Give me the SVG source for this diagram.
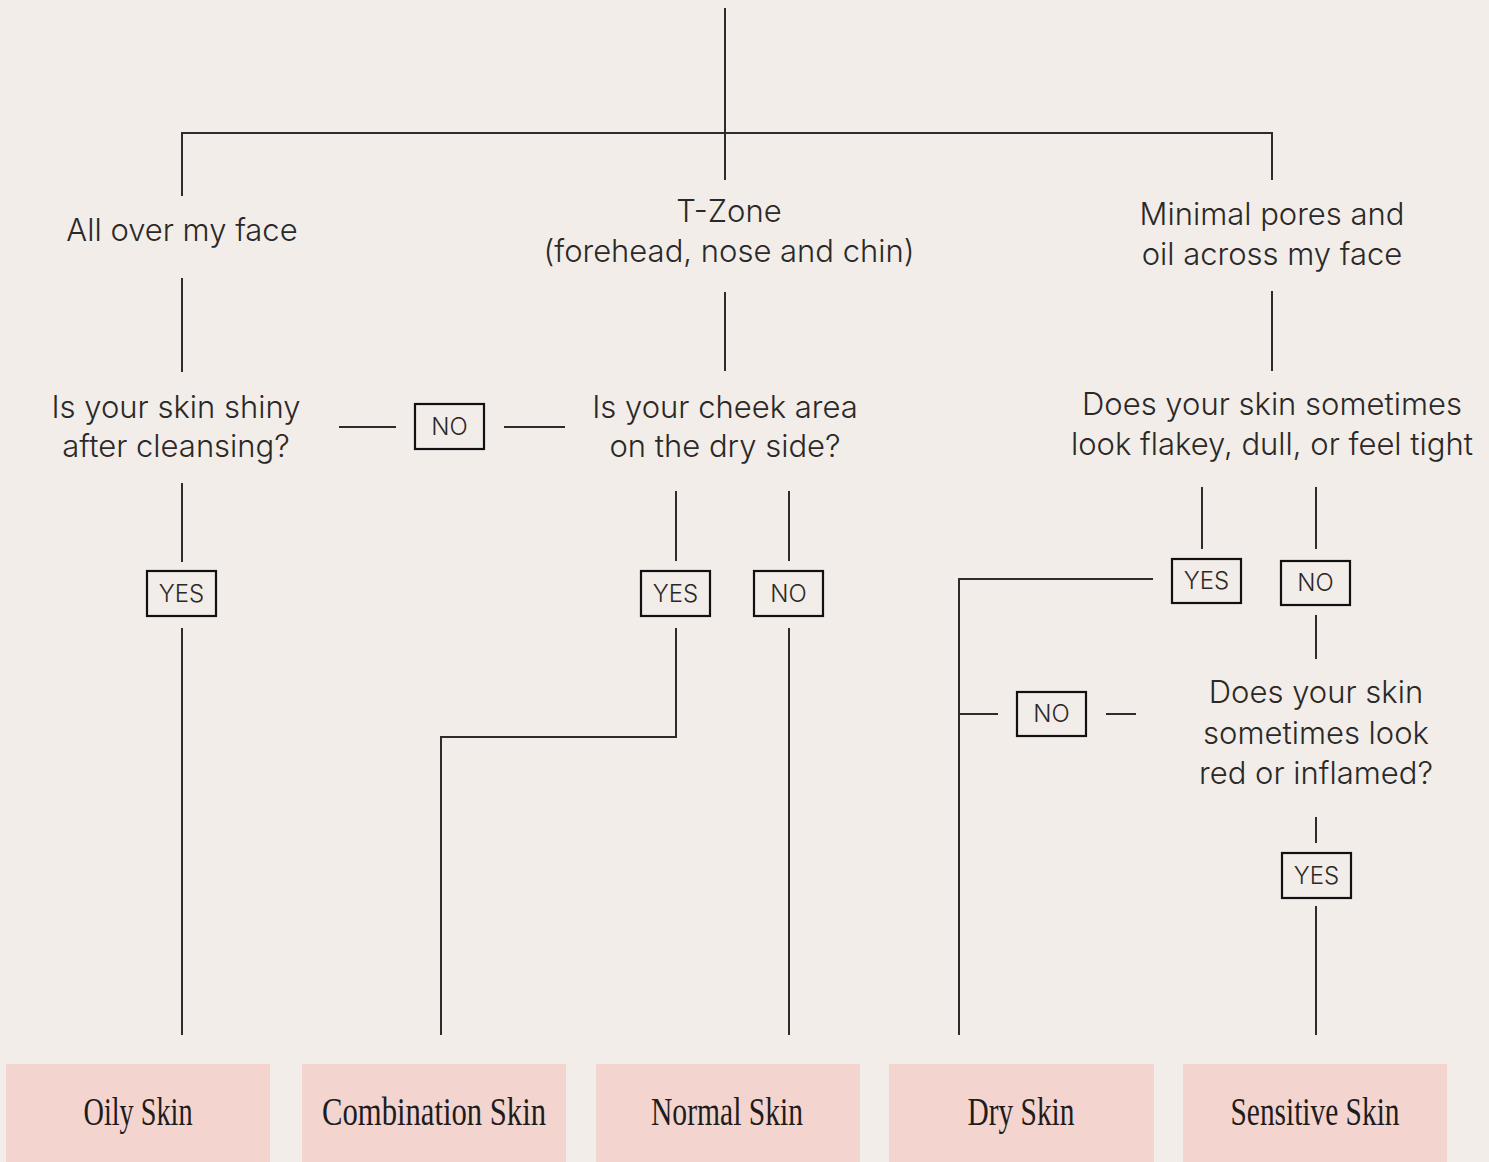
<svg xmlns="http://www.w3.org/2000/svg" width="1489" height="1162" viewBox="0 0 1489 1162">
<style>
.bg{fill:#f2ede9}
.ln{fill:none;stroke:#2e2b2a;stroke-width:2}
.q{font-family:Inter,"Liberation Sans",Arial,sans-serif;font-weight:300;font-size:31px;fill:#2b2928;text-anchor:middle}
.lb{fill:#f2ede9;stroke:#111;stroke-width:2.2}
.lt{font-family:Inter,"Liberation Sans",Arial,sans-serif;font-weight:300;font-size:24px;fill:#2b2928;text-anchor:middle}
.rb{fill:#f3d4cf}
.rt{font-family:"Liberation Serif","Times New Roman",serif;font-size:40px;fill:#1e1c1c;text-anchor:middle}
</style>
<rect class="bg" x="0" y="0" width="1489" height="1162"/>
<g id="connectors">
<path class="ln" d="M725 8V180M182 196V133H1272V180"/>
<path class="ln" d="M182 278V372M725 292V371M1272 291V371"/>
<path class="ln" d="M339 427H396M504 427H565"/>
<path class="ln" d="M182 483V562M182 628V1035"/>
<path class="ln" d="M676 491V561M676 628V737H441V1035"/>
<path class="ln" d="M789 491V561M789 628V1035"/>
<path class="ln" d="M1202 487V549M1153 579H959V1035"/>
<path class="ln" d="M1316 487V549M1316 615V659"/>
<path class="ln" d="M959 714H998M1106 714H1136"/>
<path class="ln" d="M1316 817V843M1316 906V1035"/>
</g>
<g id="q-all"><text class="q" x="182" y="241">All over my face</text></g>
<g id="q-tzone"><text class="q" x="729" y="222">T-Zone</text><text class="q" x="729" y="262">(forehead, nose and chin)</text></g>
<g id="q-minimal"><text class="q" x="1272" y="225">Minimal pores and</text><text class="q" x="1272" y="265">oil across my face</text></g>
<g id="q-shiny"><text class="q" x="176" y="418">Is your skin shiny</text><text class="q" x="176" y="457">after cleansing?</text></g>
<g id="q-cheek"><text class="q" x="725" y="418">Is your cheek area</text><text class="q" x="725" y="457">on the dry side?</text></g>
<g id="q-flakey"><text class="q" x="1272" y="415">Does your skin sometimes</text><text class="q" x="1272" y="455">look flakey, dull, or feel tight</text></g>
<g id="q-red"><text class="q" x="1316" y="703">Does your skin</text><text class="q" x="1316" y="744">sometimes look</text><text class="q" x="1316" y="784">red or inflamed?</text></g>
<g id="l-no1"><rect class="lb" x="415" y="404" width="69" height="45"/><text class="lt" x="449.5" y="435">NO</text></g>
<g id="l-yes1"><rect class="lb" x="147" y="571" width="69" height="45"/><text class="lt" x="181.5" y="602">YES</text></g>
<g id="l-yes2"><rect class="lb" x="641" y="571" width="69" height="45"/><text class="lt" x="675.5" y="602">YES</text></g>
<g id="l-no2"><rect class="lb" x="754" y="571" width="69" height="45"/><text class="lt" x="788.5" y="602">NO</text></g>
<g id="l-yes3"><rect class="lb" x="1172" y="559" width="69" height="44"/><text class="lt" x="1206.5" y="589">YES</text></g>
<g id="l-no3"><rect class="lb" x="1281" y="561" width="69" height="44"/><text class="lt" x="1315.5" y="591">NO</text></g>
<g id="l-no4"><rect class="lb" x="1017" y="692" width="69" height="44"/><text class="lt" x="1051.5" y="722">NO</text></g>
<g id="l-yes4"><rect class="lb" x="1282" y="853" width="69" height="45"/><text class="lt" x="1316.5" y="884">YES</text></g>
<g id="r-oily"><rect class="rb" x="6" y="1064" width="264" height="98"/><text class="rt" x="138" y="1125" textLength="109" lengthAdjust="spacingAndGlyphs">Oily Skin</text></g>
<g id="r-combination"><rect class="rb" x="302" y="1064" width="264" height="98"/><text class="rt" x="434" y="1125" textLength="224" lengthAdjust="spacingAndGlyphs">Combination Skin</text></g>
<g id="r-normal"><rect class="rb" x="596" y="1064" width="264" height="98"/><text class="rt" x="727" y="1125" textLength="152" lengthAdjust="spacingAndGlyphs">Normal Skin</text></g>
<g id="r-dry"><rect class="rb" x="889" y="1064" width="265" height="98"/><text class="rt" x="1021" y="1125" textLength="107" lengthAdjust="spacingAndGlyphs">Dry Skin</text></g>
<g id="r-sensitive"><rect class="rb" x="1183" y="1064" width="264" height="98"/><text class="rt" x="1315" y="1125" textLength="169" lengthAdjust="spacingAndGlyphs">Sensitive Skin</text></g>
</svg>
